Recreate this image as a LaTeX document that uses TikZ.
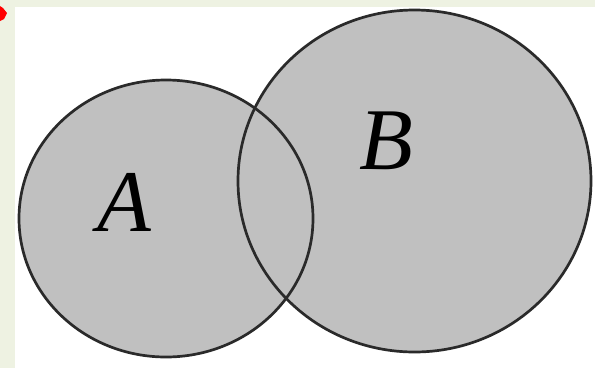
\documentclass[tikz,border=0pt]{standalone}
\usepackage{fontspec}
\setmainfont{Liberation Serif}
\usepackage{xcolor}
\usetikzlibrary{positioning}

\definecolor{nenxanh}{HTML}{EEF2E2}
\definecolor{vungxam}{HTML}{C0C0C0}
\definecolor{vien}{HTML}{2A2A2A}

\begin{document}
\begin{tikzpicture}[x=1pt, y=-1pt]
    % Nền và khung
    \useasboundingbox (0,0) rectangle (595,368);
    \fill[white] (0,0) rectangle (595,368);
    \fill[nenxanh] (0,0) rectangle (595,7);
    \fill[nenxanh] (0,0) rectangle (15,368);
    \fill[red] (0,6) -- (3,8) -- (7,13) -- (4,19) -- (0,21) -- cycle;
    
    % Hai tập hợp A và B
    \fill[vungxam] (166,218.5) ellipse [x radius=147, y radius=138.5];
    \fill[vungxam] (414.5,181) ellipse [x radius=176.5, y radius=171];
    \draw[vien, line width=2.7pt] (166,218.5) ellipse [x radius=147, y radius=138.5];
    \draw[vien, line width=2.7pt] (414.5,181) ellipse [x radius=176.5, y radius=171];
    
    % Nhãn
    \node[inner sep=0] (nhanA) at (124,202) {\fontsize{88}{88}\selectfont\itshape A};
    \node[inner sep=0] (nhanB) at (386,141) {\fontsize{88}{88}\selectfont\itshape B};
\end{tikzpicture}
\end{document}
